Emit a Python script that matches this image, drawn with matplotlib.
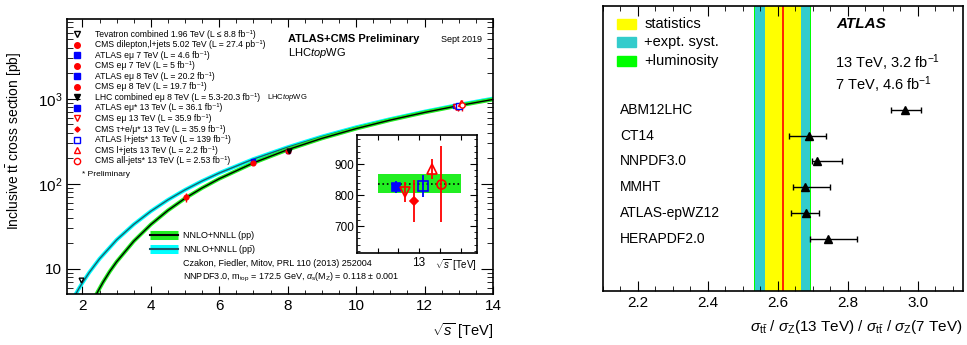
import numpy as np
import matplotlib
matplotlib.use('Agg')
import matplotlib.pyplot as plt
from matplotlib.patches import Rectangle
from matplotlib.ticker import MultipleLocator, LogLocator, NullFormatter

plt.rcParams['font.family'] = ['Liberation Sans', 'DejaVu Sans']
plt.rcParams['mathtext.fontset'] = 'custom'
plt.rcParams['mathtext.rm'] = 'Liberation Sans'
plt.rcParams['mathtext.it'] = 'Liberation Sans:italic'
plt.rcParams['mathtext.bf'] = 'Liberation Sans:bold'

# ---- left panel: theory curves ----
pp_sqrt_s = [2.38, 2.44, 2.6, 2.8, 3.0, 3.5, 4.0, 4.5, 5.0, 5.5, 6.0, 7.0,
             8.0, 9.0, 10.0, 11.0, 12.0, 13.0, 14.0]
pp_xsec = [4.76, 5.3, 6.92, 9.31, 12.1, 21.1, 33.2, 48.7, 67.5, 89.4, 114.8,
           176.5, 252.6, 342.8, 446.6, 563.5, 692.6, 833, 984]
ppbar_sqrt_s = [1.72, 1.8, 1.9, 2.0, 2.2, 2.5, 3.0, 3.5, 4.0, 4.5, 5.0, 5.5,
                6.0, 7.0, 8.0, 9.0, 10.0, 11.0, 12.0, 13.0, 14.0]
ppbar_xsec = [4.36, 5.0, 5.88, 6.84, 9.05, 13.1, 21.9, 33.3, 47.6, 64.8, 85,
              108, 134, 195.6, 270, 360, 463, 578, 708, 852, 1008]

# ---- left panel: measurements ----
meas_labels = [
    "Tevatron combined 1.96 TeV (L ≤ 8.8 fb⁻¹)",
    "CMS dilepton,l+jets 5.02 TeV (L = 27.4 pb⁻¹)",
    "ATLAS eμ 7 TeV (L = 4.6 fb⁻¹)",
    "CMS eμ 7 TeV (L = 5 fb⁻¹)",
    "ATLAS eμ 8 TeV (L = 20.2 fb⁻¹)",
    "CMS eμ 8 TeV (L = 19.7 fb⁻¹)",
    "LHC combined eμ 8 TeV (L = 5.3-20.3 fb⁻¹)",
    "ATLAS eμ* 13 TeV (L = 36.1 fb⁻¹)",
    "CMS eμ 13 TeV (L = 35.9 fb⁻¹)",
    "CMS τ+e/μ* 13 TeV (L = 35.9 fb⁻¹)",
    "ATLAS l+jets* 13 TeV (L = 139 fb⁻¹)",
    "CMS l+jets 13 TeV (L = 2.2 fb⁻¹)",
    "CMS all-jets* 13 TeV (L = 2.53 fb⁻¹)",
]
meas_sqrt_s = [1.96, 5.02, 7.0, 7.0, 8.0, 8.0, 8.03,
               12.89, 12.933, 12.977, 13.02, 13.063, 13.107]
meas_xsec = [7.4, 69.5, 186, 175, 243, 245, 241.5,
             827, 809, 781, 830, 884, 836]
meas_err = [0.4, 8.3, 7.1, 6.9, 8.4, 8.5, 8.9,
            20, 32, 67, 35, 32, 124]

# theory at 13 TeV (inset band)
th13_central = 837
th13_low = 806
th13_high = 868

# ---- right panel ----
pdf_names = ["ABM12LHC", "CT14", "NNPDF3.0", "MMHT", "ATLAS-epWZ12", "HERAPDF2.0"]
pdf_ratio = [2.965, 2.689, 2.713, 2.677, 2.682, 2.744]
pdf_err_lo = [0.042, 0.058, 0.015, 0.034, 0.044, 0.053]
pdf_err_hi = [0.044, 0.048, 0.071, 0.072, 0.036, 0.082]
ratio_meas = 2.614
ratio_stat = 0.051
ratio_syst = 0.079
ratio_lumi = 0.082

red = '#ff0000'
blue = '#0000ff'
green = '#22ee22'
cyan = '#00ffff'
teal = '#1b5c6c'

# marker styles for the 13 measurements: (marker, color, filled, size)
styles = [('v', 'k', False, 4), ('o', red, True, 4), ('s', blue, True, 4),
          ('o', red, True, 4), ('s', blue, True, 4), ('o', red, True, 4),
          ('v', 'k', True, 4), ('s', blue, True, 4), ('v', red, False, 4.5),
          ('D', red, True, 2.6), ('s', blue, False, 4.5), ('^', red, False, 4.5),
          ('o', red, False, 4.5)]

fig = plt.figure(figsize=(9.67, 3.45), dpi=100)

# ================= left panel =================
ax = fig.add_axes([0.0693, 0.1478, 0.4405, 0.797])
ax.set_yscale('log')
ax.plot(ppbar_sqrt_s, ppbar_xsec, color=cyan, lw=2.8, solid_capstyle='butt')
ax.plot(ppbar_sqrt_s, ppbar_xsec, color=teal, lw=1.0)
ax.plot(pp_sqrt_s, pp_xsec, color=green, lw=2.8, solid_capstyle='butt')
ax.plot(pp_sqrt_s, pp_xsec, color='k', lw=1.0)

for i in range(len(meas_xsec)):
    m, c, filled, ms = styles[i]
    ax.errorbar(meas_sqrt_s[i], meas_xsec[i], yerr=meas_err[i], fmt=m, color=c,
                mfc=c if filled else 'white', mec=c, ms=ms * 0.85, elinewidth=1,
                capsize=0, zorder=5)

ax.set_xlim(1.55, 14)
ax.set_ylim(5.05, 8700)
ax.xaxis.set_major_locator(MultipleLocator(2))
ax.xaxis.set_minor_locator(MultipleLocator(0.5))
ax.set_yticks([10, 100, 1000], labels=['10', '$10^{2}$', '$10^{3}$'])
ax.yaxis.set_minor_locator(LogLocator(base=10, subs=np.arange(2, 10)))
ax.yaxis.set_minor_formatter(NullFormatter())
ax.tick_params(which='both', direction='in', top=True, right=True, labelsize=11)
ax.tick_params(axis='x', which='major', length=6)
ax.tick_params(axis='x', which='minor', length=3)
ax.tick_params(axis='y', which='major', length=9)
ax.tick_params(axis='y', which='minor', length=4.5)
for s in ax.spines.values():
    s.set_linewidth(1.2)

ax.set_xlabel(r"$\sqrt{s}$ [TeV]", fontsize=10.5, loc='right', labelpad=6)
ax.set_ylabel(r"Inclusive $\mathrm{t\bar{t}}$ cross section [pb]", fontsize=10)
ax.yaxis.set_label_coords(-0.1, 0.556)

# measurement legend
row0, drow = 0.9455, 0.0384
for i, lab in enumerate(meas_labels):
    m, c, filled, ms = styles[i]
    y = row0 - i * drow
    ax.plot([0.0235], [y], marker=m, color=c, mfc=c if filled else 'white',
            mec=c, ms=ms, ls='none', transform=ax.transAxes)
    ax.text(0.0657, y, lab, transform=ax.transAxes, fontsize=6.2, va='center')
ax.text(0.469, row0 - 6 * drow, r"LHC$\mathit{top}$WG", transform=ax.transAxes,
        fontsize=5.5, va='center')
ax.text(0.0345, 0.4364, "* Preliminary", transform=ax.transAxes, fontsize=6, va='center')

ax.text(0.5188, 0.9273, "ATLAS+CMS Preliminary", transform=ax.transAxes,
        fontsize=8, fontweight='bold', va='center')
ax.text(0.878, 0.9273, "Sept 2019", transform=ax.transAxes, fontsize=6.5, va='center')
ax.text(0.5188, 0.878, r"LHC$\mathit{top}$WG", transform=ax.transAxes,
        fontsize=8, va='center')

# theory legend
ax.plot([0.195, 0.2606], [0.2145, 0.2145], color=green, lw=6.5,
        solid_capstyle='butt', transform=ax.transAxes)
ax.plot([0.195, 0.2606], [0.2145, 0.2145], color='k', lw=1.5, transform=ax.transAxes)
ax.plot([0.195, 0.2606], [0.1636, 0.1636], color=cyan, lw=6.5,
        solid_capstyle='butt', transform=ax.transAxes)
ax.plot([0.195, 0.2606], [0.1636, 0.1636], color=teal, lw=1.5, transform=ax.transAxes)
ax.text(0.2723, 0.2145, "NNLO+NNLL (pp)", transform=ax.transAxes, fontsize=6.5, va='center')
ax.text(0.2723, 0.1636, r"NNLO+NNLL (p$\mathrm{\bar{p}}$)", transform=ax.transAxes,
        fontsize=6.5, va='center')
ax.text(0.2723, 0.1127, "Czakon, Fiedler, Mitov, PRL 110 (2013) 252004",
        transform=ax.transAxes, fontsize=6.5, va='center')
ax.text(0.2723, 0.0618,
        r"NNPDF3.0, m$_{\mathrm{top}}$ = 172.5 GeV, $\alpha_{\mathrm{s}}$(M$_{\mathrm{Z}}$) = 0.118 ± 0.001",
        transform=ax.transAxes, fontsize=6.5, va='center')

# ---- inset ----
axin = fig.add_axes([0.3689, 0.2667, 0.1247, 0.3420])
axin.fill_between([12.8, 13.2], th13_low, th13_high, color=green, lw=0)
axin.plot([12.8, 13.2], [th13_central, th13_central], color='k', ls=':', lw=1.2)
for i in range(7, len(meas_xsec)):
    m, c, filled, ms = styles[i]
    axin.errorbar(meas_sqrt_s[i], meas_xsec[i], yerr=meas_err[i], fmt=m, color=c,
                  mfc=c if filled else 'none', mec=c, ms=ms * 1.45, elinewidth=1.3,
                  capsize=0, mew=1.2)
axin.set_xlim(12.70, 13.28)
axin.set_ylim(613, 994)
axin.set_xticks([12.8, 12.9, 13.0, 13.1, 13.2], labels=['', '', '13', '', ''])
axin.set_yticks([700, 800, 900])
axin.yaxis.set_minor_locator(MultipleLocator(20))
axin.tick_params(which='both', direction='in', top=True, right=True, labelsize=8.5)
axin.tick_params(axis='x', length=3.5, pad=3)
axin.tick_params(axis='y', which='major', length=5, pad=2)
axin.tick_params(axis='y', which='minor', length=2.5)
for s in axin.spines.values():
    s.set_linewidth(1.2)
axin.text(1.0, -0.035, r"$\sqrt{s}$ [TeV]", transform=axin.transAxes, fontsize=7,
          ha='right', va='top')

# ================= right panel =================
ax2 = fig.add_axes([0.6236, 0.1565, 0.3723, 0.8261])
ax2.axvspan(ratio_meas - ratio_lumi, ratio_meas + ratio_lumi, color='#00ff00', lw=0)
ax2.axvspan(ratio_meas - ratio_syst, ratio_meas + ratio_syst, color='#33cccc', lw=0)
ax2.axvspan(ratio_meas - ratio_stat, ratio_meas + ratio_stat, color='#ffff00', lw=0)
ax2.axvline(ratio_meas, color=red, lw=1.2)

rows = np.arange(len(pdf_names))[::-1] + 2
ax2.errorbar(pdf_ratio, rows, xerr=[pdf_err_lo, pdf_err_hi], fmt='^', color='k',
             ms=5.5, elinewidth=1, capsize=2.5, capthick=1)
for name, y in zip(pdf_names, rows):
    ax2.text(2.149, y, name, fontsize=10, va='center')

ax2.set_xlim(2.1, 3.13)
ax2.set_ylim(0, 11)
ax2.set_yticks([])
ax2.xaxis.set_major_locator(MultipleLocator(0.2))
ax2.xaxis.set_minor_locator(MultipleLocator(0.05))
ax2.tick_params(which='both', direction='in', top=True, labelsize=11)
ax2.tick_params(which='major', length=7)
ax2.tick_params(which='minor', length=3.5)
for s in ax2.spines.values():
    s.set_linewidth(1.2)
ax2.set_xlabel(r"$\sigma_{\mathrm{t\bar{t}}}$ / $\sigma_{\mathrm{Z}}$(13 TeV) / "
               r"$\sigma_{\mathrm{t\bar{t}}}$ / $\sigma_{\mathrm{Z}}$(7 TeV)",
               fontsize=11, loc='right', labelpad=6)

leg_colors = ['#ffff00', '#33cccc', '#00ff00']
leg_names = ['statistics', '+expt. syst.', '+luminosity']
leg_y = [0.937, 0.872, 0.807]
for c, name, y in zip(leg_colors, leg_names, leg_y):
    ax2.add_patch(Rectangle((0.0389, y - 0.0175), 0.0528, 0.035, color=c,
                            transform=ax2.transAxes))
    ax2.text(0.114, y, name, transform=ax2.transAxes, fontsize=10.5, va='center')

ax2.text(0.649, 0.937, "ATLAS", transform=ax2.transAxes, fontsize=11,
         fontweight='bold', style='italic', va='center')
ax2.text(0.644, 0.8, r"13 TeV, 3.2 fb$^{-1}$", transform=ax2.transAxes,
         fontsize=10.5, va='center')
ax2.text(0.644, 0.723, r"7 TeV, 4.6 fb$^{-1}$", transform=ax2.transAxes,
         fontsize=10.5, va='center')

fig.savefig('out.png', dpi=100)
